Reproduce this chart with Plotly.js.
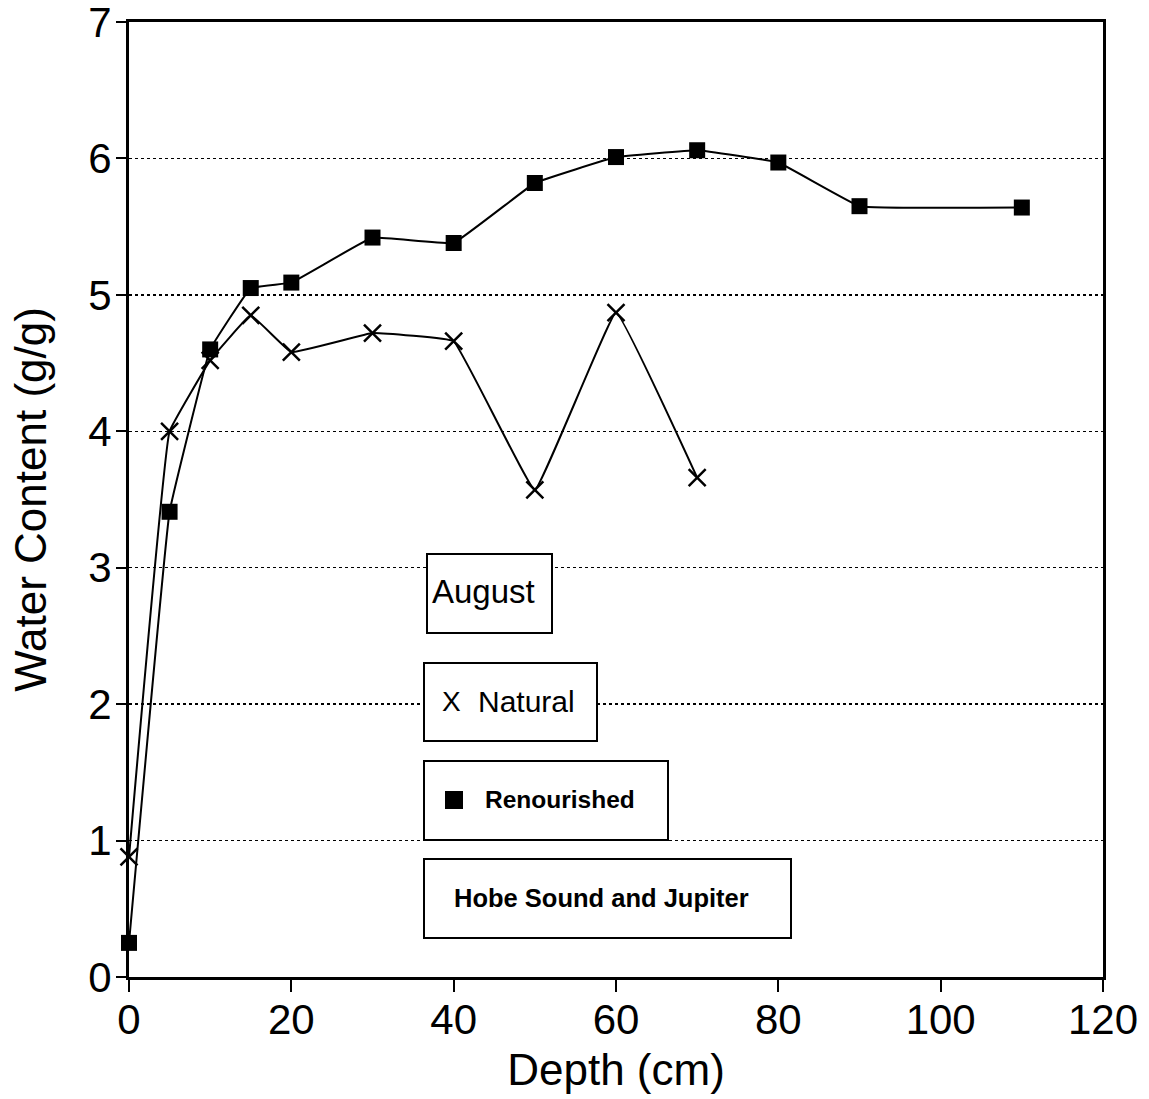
<!DOCTYPE html>
<html>
<head>
<meta charset="utf-8">
<script src="https://cdn.plot.ly/plotly-3.0.1.min.js"></script>
<style>html,body{margin:0;padding:0;background:#fff;}#chart{width:1149px;height:1099px;}</style>
</head>
<body>
<div id="chart"></div>
<script>
const naturalDepth = [0, 5, 10, 15, 20, 30, 40, 50, 60, 70];
const naturalWater = [0.88, 4.0, 4.52, 4.85, 4.58, 4.72, 4.66, 3.57, 4.87, 3.66];
const renourDepth = [0, 5, 10, 15, 20, 30, 40, 50, 60, 70, 80, 90, 110];
const renourWater = [0.25, 3.41, 4.6, 5.05, 5.09, 5.42, 5.38, 5.82, 6.01, 6.06, 5.97, 5.65, 5.64];
const xTicks = [0, 20, 40, 60, 80, 100, 120];
const yTicks = [0, 1, 2, 3, 4, 5, 6, 7];

const font = 'Liberation Sans, Arial, Helvetica, sans-serif';

const traces = [
  {
    x: naturalDepth, y: naturalWater, name: 'Natural', type: 'scatter', mode: 'lines+markers',
    line: {color: '#000', width: 2, shape: 'spline', smoothing: 0.2},
    marker: {symbol: 'x-thin-open', size: 17, color: '#000', line: {color: '#000', width: 2.5}},
    cliponaxis: false
  },
  {
    x: renourDepth, y: renourWater, name: 'Renourished', type: 'scatter', mode: 'lines+markers',
    line: {color: '#000', width: 2, shape: 'spline', smoothing: 0.2},
    marker: {symbol: 'square', size: 16, color: '#000'},
    cliponaxis: false
  }
];

function px2x(p) { return (p - 129) / 974; }
function px2y(p) { return (977 - p) / 955; }

const boxes = [
  [427, 554, 552, 633],
  [424, 663, 597, 741],
  [424, 761, 668, 840],
  [424, 859, 791, 938]
];
const shapes = boxes.map(b => ({
  type: 'rect', xref: 'paper', yref: 'paper', layer: 'above',
  x0: px2x(b[0]), x1: px2x(b[2]), y0: px2y(b[3]), y1: px2y(b[1]),
  fillcolor: '#fff', line: {color: '#000', width: 2}
}));
shapes.push({
  type: 'rect', xref: 'paper', yref: 'paper', layer: 'above',
  x0: px2x(445), x1: px2x(463), y0: px2y(809), y1: px2y(791),
  fillcolor: '#000', line: {color: '#000', width: 0}
});

const annotations = [
  {text: 'August', x: px2x(430), y: px2y(591), size: 33, weight: 'normal'},
  {text: 'X', x: px2x(440), y: px2y(701), size: 28, weight: 'normal'},
  {text: 'Natural', x: px2x(476), y: px2y(701), size: 30, weight: 'normal'},
  {text: 'Renourished', x: px2x(483), y: px2y(799), size: 24.5, weight: 'bold'},
  {text: 'Hobe Sound and Jupiter', x: px2x(452), y: px2y(898), size: 25.5, weight: 'bold'}
].map(a => ({
  text: a.text, xref: 'paper', yref: 'paper', x: a.x, y: a.y,
  xanchor: 'left', yanchor: 'middle', showarrow: false,
  font: {family: font, size: a.size, color: '#000', weight: a.weight}
}));

const layout = {
  width: 1149, height: 1099,
  margin: {l: 129, r: 46, t: 22, b: 122},
  paper_bgcolor: '#fff', plot_bgcolor: '#fff',
  showlegend: false,
  font: {family: font, color: '#000'},
  xaxis: {
    range: [0, 120], tickvals: xTicks, ticktext: xTicks.map(String),
    showgrid: false, zeroline: false,
    showline: true, linecolor: '#000', linewidth: 3, mirror: true,
    ticks: 'outside', ticklen: 12, tickwidth: 2, tickcolor: '#000',
    tickfont: {size: 42, family: font, color: '#000'},
    ticklabeloverflow: 'allow', ticklabelstandoff: -8,
    title: {text: 'Depth (cm)', font: {size: 44, family: font, color: '#000'}, standoff: 12}
  },
  yaxis: {
    range: [0, 7], tickvals: yTicks, ticktext: yTicks.map(String),
    showgrid: true, gridcolor: '#000', gridwidth: 1.5, griddash: 'dot',
    zeroline: false,
    showline: true, linecolor: '#000', linewidth: 3, mirror: true,
    ticks: 'outside', ticklen: 10, tickwidth: 2, tickcolor: '#000',
    tickfont: {size: 42, family: font, color: '#000'},
    ticklabeloverflow: 'allow', ticklabelstandoff: -4,
    title: {text: 'Water Content (g/g)', font: {size: 44, family: font, color: '#000'}, standoff: 28}
  },
  shapes: shapes,
  annotations: annotations
};

Plotly.newPlot('chart', traces, layout, {displayModeBar: false, staticPlot: true});
</script>
</body>
</html>
